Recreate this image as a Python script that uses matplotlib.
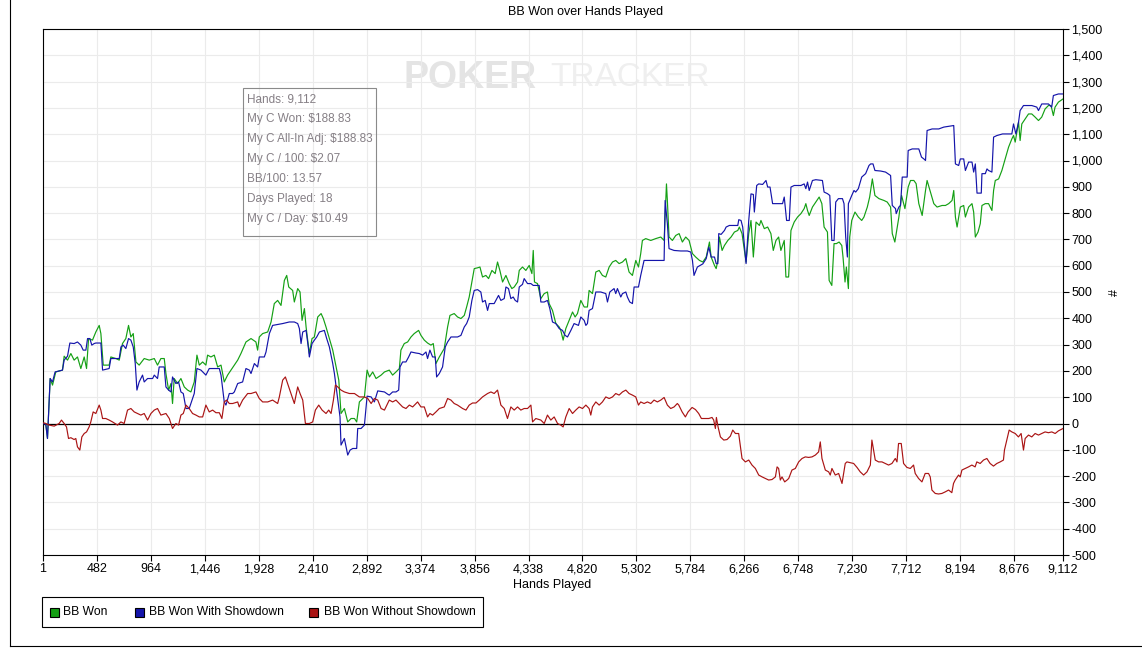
import matplotlib

matplotlib.use("Agg")
import matplotlib.pyplot as plt
from matplotlib.patches import Rectangle
from matplotlib.lines import Line2D

plt.rcParams["font.family"] = ["Liberation Sans", "DejaVu Sans"]

W, H = 1142, 657

X_TICKS = [1, 482, 964, 1446, 1928, 2410, 2892, 3374, 3856, 4338,
           4820, 5302, 5784, 6266, 6748, 7230, 7712, 8194, 8676, 9112]
Y_TICKS = list(range(-500, 1501, 100))

SERIES_NAMES = ["BB Won", "BB Won With Showdown", "BB Won Without Showdown"]

TOOLTIP_LINES = [
    "Hands: 9,112",
    "My C Won: $188.83",
    "My C All-In Adj: $188.83",
    "My C / 100: $2.07",
    "BB/100: 13.57",
    "Days Played: 18",
    "My C / Day: $10.49",
]

green_hands = [
    1, 25, 41, 65, 86, 115, 175, 190, 220, 250,
    279, 309, 339, 369, 390, 408, 443, 473, 503, 518,
    539, 592, 607, 652, 682, 711, 741, 765, 786, 807,
    831, 860, 905, 950, 995, 1024, 1054, 1084, 1099, 1123,
    1144, 1158, 1173, 1203, 1233, 1263, 1293, 1322, 1352, 1376,
    1397, 1427, 1456, 1471, 1501, 1531, 1561, 1591, 1620, 1650,
    1680, 1710, 1740, 1769, 1814, 1859, 1903, 1918, 1933, 1963,
    2008, 2038, 2067, 2097, 2127, 2157, 2178, 2196, 2231, 2246,
    2276, 2297, 2315, 2336, 2351, 2380, 2404, 2425, 2455, 2485,
    2505, 2529, 2559, 2589, 2619, 2643, 2663, 2693, 2723, 2753,
    2783, 2803, 2827, 2872, 2896, 2917, 2946, 2976, 3021, 3051,
    3094, 3124, 3154, 3184, 3198, 3228, 3258, 3288, 3317, 3356,
    3377, 3407, 3436, 3466, 3487, 3511, 3541, 3585, 3615, 3636,
    3674, 3704, 3734, 3764, 3785, 3808, 3853, 3883, 3904, 3927,
    3957, 3981, 4011, 4040, 4061, 4082, 4106, 4136, 4165, 4189,
    4210, 4240, 4255, 4284, 4314, 4344, 4368, 4380, 4391, 4418,
    4448, 4478, 4507, 4522, 4552, 4582, 4612, 4626, 4647, 4671,
    4701, 4731, 4754, 4775, 4805, 4835, 4864, 4879, 4909, 4939,
    4969, 4998, 5028, 5058, 5088, 5117, 5147, 5177, 5207, 5236,
    5266, 5296, 5320, 5340, 5355, 5385, 5430, 5474, 5519, 5549,
    5570, 5578, 5593, 5623, 5653, 5683, 5712, 5742, 5772, 5802,
    5831,
    5865, 5895, 5925, 5954, 5969, 5999, 6014, 6029, 6043, 6067,
    6088, 6118, 6147, 6177, 6207, 6221, 6245, 6266, 6281, 6305,
    6325, 6346, 6370, 6400, 6414, 6444, 6474, 6503, 6524, 6548,
    6572, 6592, 6622, 6637, 6661, 6682, 6711, 6741, 6771, 6800,
    6815, 6830, 6845, 6874, 6904, 6934, 6958, 6978, 7008, 7023,
    7047, 7067, 7088, 7112, 7136, 7147, 7165, 7177, 7195, 7207,
    7225, 7254, 7284, 7314, 7334, 7364, 7385, 7409, 7432, 7468,
    7513, 7542, 7572, 7587, 7610, 7631, 7646, 7670, 7700, 7729,
    7750, 7780, 7800, 7824, 7854, 7884, 7898, 7928, 7958, 7987,
    8032, 8062, 8091, 8121, 8136, 8151, 8166, 8195, 8225, 8240,
    8269, 8299, 8314, 8329, 8353, 8373, 8388, 8418, 8447, 8477,
    8492, 8507, 8537, 8566, 8596, 8626, 8655, 8670, 8685, 8715,
    8729, 8744, 8774, 8804, 8833, 8863, 8893, 8922, 8952, 8982,
    9005, 9026, 9041, 9071, 9112,
]
green_bb = [
    0, 0, -57, 171, 146, 196, 203, 256, 241, 266,
    241, 253, 209, 253, 209, 323, 317, 348, 373, 342,
    222, 222, 253, 247, 241, 304, 323, 373, 329, 342,
    234, 222, 247, 241, 247, 222, 247, 247, 190, 127,
    152, 76, 171, 152, 171, 139, 127, 120, 158, 260,
    222, 234, 222, 260, 253, 260, 215, 222, 158, 184,
    203, 222, 241, 266, 310, 323, 310, 279, 329, 342,
    348, 386, 456, 468, 449, 544, 563, 519, 506, 462,
    513, 500, 392, 437, 367, 266, 323, 329, 405, 418,
    399, 367, 323, 279, 215, 165, 38, 57, 6, 19,
    19, 6, 82, 101, 203, 177, 196, 171, 184, 196,
    203, 184, 196, 209, 279, 304, 310, 329, 342, 354,
    335, 317, 306, 298, 304, 228, 253, 285, 367, 411,
    418, 405, 399, 411, 443, 481, 589, 592, 595, 557,
    563, 551, 582, 570, 614, 582, 538, 563, 532, 513,
    519, 538, 582, 595, 582, 601, 570, 658, 538, 532,
    475, 494, 500, 456, 430, 380, 367, 354, 317, 361,
    392, 424, 405, 418, 468, 443, 443, 506, 494, 576,
    582, 563, 557, 595, 614, 620, 608, 614, 627, 576,
    563, 620, 595, 646, 696, 703, 696, 703, 709, 696,
    911, 848, 709, 696, 715, 722, 690, 709, 696, 646,
    633,
    620, 614, 633, 690, 633, 601, 589, 620, 709, 658,
    677, 696, 709, 728, 734, 747, 722, 658, 614, 722,
    772, 633, 766, 753, 772, 741, 747, 722, 658, 696,
    709, 658, 696, 557, 557, 734, 766, 785, 798, 817,
    836, 810, 791, 823, 842, 861, 836, 747, 728, 544,
    525, 684, 684, 690, 677, 633, 538, 595, 513, 709,
    772, 804, 785, 772, 785, 823, 861, 930, 867, 855,
    848, 842, 823, 722, 690, 747, 785, 867, 817, 899,
    924, 924, 912, 836, 791, 886, 924, 880, 836, 823,
    829, 829, 836, 848, 886, 785, 747, 823, 829, 785,
    823, 836, 804, 709, 728, 760, 829, 836, 836, 810,
    886, 924, 930, 962, 1006, 1051, 1082, 1095, 1070, 1146,
    1076, 1139, 1158, 1177, 1177, 1165, 1152, 1165, 1196, 1209,
    1209, 1171, 1203, 1222, 1234,
]

blue_hands = [
    1, 26, 41, 65, 86, 109, 175, 190, 220, 241,
    279, 309, 339, 360, 384, 399, 419, 437, 458, 473,
    518, 533, 592, 607, 682, 697, 717, 741, 765, 786,
    807, 825, 840, 860, 890, 905, 935, 980, 995, 1024,
    1039, 1084, 1099, 1123, 1144, 1158, 1188, 1212, 1233, 1254,
    1278, 1307, 1322, 1352, 1376, 1412, 1456, 1486, 1576, 1591,
    1620, 1635, 1665, 1695, 1710, 1740, 1784, 1814, 1844, 1859,
    1889, 1918, 1933, 1978, 1993, 2023, 2052, 2142, 2201, 2246,
    2276, 2291, 2306, 2321, 2351, 2374, 2380, 2404, 2425, 2446,
    2470, 2514, 2535, 2559, 2589, 2604, 2634, 2654, 2663, 2693,
    2723, 2744, 2768, 2803, 2812, 2842, 2872, 2896, 2932, 2961,
    2991, 3051, 3081,
    3094, 3124, 3154, 3178, 3190, 3213, 3243, 3267, 3288, 3332,
    3362, 3392, 3422, 3436, 3457, 3481, 3505, 3517, 3541, 3570,
    3594, 3615, 3645, 3704, 3734, 3764, 3785, 3808, 3832, 3853,
    3883, 3912, 3927, 3951, 3972, 3987, 4031, 4046, 4070, 4091,
    4121, 4136, 4159, 4180, 4201, 4219, 4240, 4255, 4284, 4299,
    4329, 4359, 4380, 4403, 4433, 4448, 4478, 4507, 4528, 4552,
    4582, 4612, 4641, 4665, 4686, 4716, 4745, 4784, 4805, 4835,
    4850, 4864, 4879, 4909, 4939, 4983, 5028, 5043, 5064, 5102,
    5117, 5132, 5162, 5177, 5207, 5221, 5242, 5266, 5281, 5320,
    5340, 5370, 5445, 5504, 5549, 5558, 5578, 5593, 5638, 5697,
    5757, 5787, 5802, 5816, 5846,
    5895, 5925, 5948, 5969, 5999, 6014, 6029, 6037, 6058, 6088,
    6103, 6132, 6207, 6216, 6236, 6251, 6281, 6305, 6325, 6346,
    6355, 6376, 6394, 6429, 6459, 6474, 6495, 6518, 6607, 6622,
    6643, 6667, 6682, 6711, 6771, 6800, 6815, 6830, 6845, 6874,
    6904, 6963, 6978, 7008, 7029, 7047, 7067, 7082, 7106, 7142,
    7156, 7171, 7186, 7195, 7225, 7245, 7260, 7284, 7314, 7349,
    7379, 7394, 7415, 7432, 7483, 7527, 7572, 7587, 7616, 7622,
    7646, 7661, 7676, 7720, 7729, 7765, 7824, 7848, 7869, 7884,
    7898, 7943, 8002, 8047, 8136, 8151, 8180, 8195, 8225, 8240,
    8269, 8299, 8314, 8329, 8344, 8382, 8388, 8418, 8433, 8447,
    8477, 8492, 8522, 8572, 8655, 8670, 8691, 8715, 8729, 8759,
    8833, 8878, 8893, 8922, 8982, 9011, 9026, 9071, 9112,
]
blue_bb = [
    0, -3, -57, 171, 158, 196, 203, 241, 256, 306,
    304, 310, 298, 279, 279, 323, 323, 298, 304, 306,
    306, 203, 209, 247, 247, 291, 298, 285, 323, 317,
    291, 228, 127, 158, 184, 158, 171, 171, 184, 171,
    215, 215, 139, 127, 120, 177, 152, 158, 120, 114,
    57, 57, 76, 114, 209, 203, 184, 209, 209, 184,
    82, 70, 114, 114, 120, 152, 158, 209, 203, 190,
    228, 215, 253, 253, 272, 342, 373, 380, 386, 386,
    380, 361, 304, 348, 354, 279, 253, 304, 317, 329,
    348, 354, 323, 291, 228, 190, 89, 25, -82, -57,
    -120, -101, -95, -95, -19, -19, -6, 104, 101, 82,
    124, 120, 111,
    108, 120, 120, 127, 215, 234, 234, 253, 272, 268,
    266, 260, 272, 247, 279, 253, 253, 177, 190, 215,
    291, 310, 329, 329, 335, 367, 380, 405, 468, 506,
    509, 500, 462, 468, 430, 456, 456, 468, 487, 468,
    475, 519, 513, 475, 481, 468, 462, 519, 529, 551,
    532, 532, 525, 525, 525, 462, 462, 468, 437, 386,
    380, 361, 354, 335, 329, 354, 380, 373, 405, 392,
    373, 380, 430, 437, 500, 500, 494, 462, 500, 513,
    494, 513, 481, 494, 500, 481, 462, 456, 519, 519,
    563, 620, 620, 620, 620, 848, 760, 665, 658, 656,
    656, 652, 620, 563, 595,
    607, 627, 671, 633, 633, 608, 608, 722, 719, 734,
    747, 753, 753, 775, 772, 747, 608, 772, 873, 871,
    804, 905, 911, 909, 924, 899, 899, 836, 836, 861,
    772, 772, 899, 905, 905, 911, 893, 918, 886, 924,
    927, 924, 880, 874, 867, 696, 696, 842, 855, 855,
    836, 709, 633, 836, 867, 886, 880, 893, 937, 950,
    981, 987, 987, 962, 960, 956, 943, 829, 817, 798,
    823, 829, 937, 937, 1038, 1044, 1044, 1013, 1006, 1000,
    1114, 1120, 1120, 1127, 1133, 987, 981, 1006, 1006, 962,
    994, 994, 956, 987, 876, 876, 950, 950, 968, 962,
    956, 1089, 1095, 1101, 1101, 1139, 1101, 1146, 1190, 1209,
    1209, 1203, 1190, 1215, 1215, 1203, 1247, 1253, 1253,
]

red_hands = [
    1, 26, 56, 101, 145, 166, 190, 211, 229, 250,
    279, 294, 309, 330, 348, 369, 390, 413, 428, 449,
    473, 503, 518, 533, 562, 592, 622, 667, 697, 726,
    756, 786, 816, 846, 875, 905, 935, 965, 995, 1024,
    1054, 1099, 1129, 1158, 1188, 1212, 1233, 1254, 1278, 1307,
    1337, 1367, 1397, 1427, 1456, 1486, 1516, 1546, 1576, 1599,
    1620, 1641, 1665, 1695, 1740, 1754, 1784, 1829, 1859, 1903,
    1933, 1963, 2008, 2052, 2097, 2112, 2142, 2166, 2186, 2216,
    2246, 2276, 2297, 2321, 2345, 2380, 2410, 2434, 2464, 2494,
    2529, 2553, 2574, 2595, 2613, 2634, 2663, 2693, 2738, 2783,
    2827, 2872, 2902, 2932, 2961, 2991, 3021, 3051,
    3094, 3124, 3154, 3184, 3213, 3243, 3273, 3303, 3347, 3377,
    3407, 3436, 3457, 3481, 3511, 3541, 3585, 3615, 3645, 3674,
    3704, 3749, 3779, 3808, 3838, 3868, 3898, 3927, 3972, 4002,
    4031, 4061, 4091, 4121, 4150, 4180, 4210, 4240, 4269, 4299,
    4329, 4359, 4374, 4403, 4448, 4478, 4507, 4537, 4567, 4597,
    4626, 4647, 4671, 4701, 4731, 4760, 4790, 4820, 4850, 4879,
    4894, 4909, 4939, 4969, 4998, 5028, 5058, 5088, 5117, 5147,
    5177, 5207, 5236, 5266, 5296, 5320, 5340, 5370, 5400, 5430,
    5459, 5489, 5519, 5549, 5578, 5608, 5638, 5667,
    5680, 5710, 5739, 5763, 5799, 5829, 5858, 5882, 5918, 5948,
    5977, 5992, 6007, 6016, 6031, 6052, 6082, 6111, 6141, 6162,
    6186, 6215, 6245, 6275, 6305, 6334, 6364, 6394, 6424, 6453,
    6483, 6513, 6543, 6558, 6572, 6587, 6602, 6626, 6647, 6662,
    6691, 6721, 6751, 6781, 6810, 6840, 6870, 6900, 6929, 6944,
    6959, 6989, 7019, 7033, 7048, 7078, 7108, 7138, 7167, 7182,
    7212, 7242, 7272, 7301, 7331, 7361, 7391, 7405, 7435, 7465,
    7495, 7524, 7554, 7584, 7614, 7629, 7643, 7667, 7688, 7718,
    7748, 7777, 7792, 7822, 7852, 7881, 7911, 7926, 7941, 7971,
    8000, 8030, 8060, 8090, 8119, 8134, 8149, 8179, 8194, 8209,
    8238, 8268, 8298, 8327, 8342, 8372, 8402, 8432, 8461, 8491,
    8521, 8551, 8580, 8589, 8610, 8631, 8655, 8685, 8714, 8738,
    8759, 8774, 8804, 8833, 8863, 8893, 8923, 8952, 8982, 9012,
    9042, 9071, 9112,
]
red_bb = [
    3, 0, -6, -10, 0, 13, 0, -13, -57, -54,
    -61, -57, -89, -101, -51, -38, -32, -13, 6, 44,
    38, 70, 51, 19, 19, 13, 6, -6, 6, 0,
    51, 57, 44, 38, 32, 38, 13, 38, 51, 57,
    32, 38, 19, -19, 0, -6, 32, 38, 70, 57,
    38, 32, 25, 25, 70, 44, 51, 41, 41, 19,
    82, 89, 76, 76, 82, 63, 89, 114, 114, 120,
    95, 82, 82, 89, 76, 101, 165, 177, 152, 114,
    76, 139, 114, 89, 0, 0, 6, 51, 70, 51,
    38, 51, 38, 89, 146, 139, 127, 120, 114, 114,
    101, 101, 95, 76, 95, 89, 57, 51,
    89, 82, 89, 76, 63, 57, 70, 63, 82, 63,
    63, 25, 38, 32, 44, 57, 63, 95, 89, 76,
    70, 57, 51, 70, 78, 78, 89, 101, 114, 120,
    114, 127, 70, 57, 19, 63, 51, 63, 51, 57,
    57, 70, 6, 19, 13, 0, 32, 13, 25, 0,
    -6, -13, 25, 57, 38, 51, 63, 57, 70, 57,
    32, 63, 82, 70, 82, 101, 95, 101, 114, 108,
    120, 127, 114, 108, 101, 70, 82, 76, 82, 76,
    89, 82, 89, 99, 70, 57, 63, 76,
    70, 44, 25, 44, 61, 53, 38, 19, 19, 19,
    23, 13, -19, 23, -13, -51, -63, -61, -48, -25,
    -38, -38, -133, -146, -139, -158, -171, -196, -203, -209,
    -215, -213, -203, -165, -171, -215, -203, -222, -215, -209,
    -177, -171, -146, -133, -127, -129, -127, -120, -108, -70,
    -133, -177, -184, -196, -171, -196, -190, -228, -152, -146,
    -149, -152, -167, -184, -196, -184, -158, -63, -139, -146,
    -146, -152, -158, -152, -133, -146, -76, -76, -152, -167,
    -171, -158, -190, -209, -222, -190, -190, -203, -253, -266,
    -268, -266, -260, -253, -263, -228, -215, -196, -203, -177,
    -171, -165, -158, -165, -146, -152, -139, -133, -152, -162,
    -152, -146, -139, -101, -63, -25, -32, -38, -51, -38,
    -101, -57, -44, -51, -38, -44, -38, -32, -35, -32,
    -38, -28, -19,
]

GREEN = "#14a014"
BLUE = "#1414aa"
RED = "#aa1414"


def fx(x):
    return x / W


def fy(y):
    return 1 - y / H


def main():
    fig = plt.figure(figsize=(W / 100, H / 100), dpi=100)
    fig.patch.set_facecolor("white")
    ax = fig.add_axes([fx(43), fy(555), (1063 - 43) / W, (555 - 29) / H])

    # watermark behind everything
    ax.text(fx(403), fy(78), "POKER", transform=fig.transFigure, fontsize=27,
            fontweight="bold", color="#e4e4e4", va="center", ha="left", zorder=0.3)
    ax.text(fx(550), fy(78), "TRACKER", transform=fig.transFigure, fontsize=24,
            color="#efefef", va="center", ha="left", zorder=0.3)

    ax.plot(green_hands, green_bb, color=GREEN, lw=0.85, zorder=3)
    ax.plot(blue_hands, blue_bb, color=BLUE, lw=0.85, zorder=4)
    ax.plot(red_hands, red_bb, color=RED, lw=0.85, zorder=5)
    ax.axhline(0, color="black", lw=0.9, zorder=2.5)

    ax.set_xlim(X_TICKS[0], X_TICKS[-1])
    ax.set_ylim(Y_TICKS[0], Y_TICKS[-1])
    ax.set_xticks(X_TICKS)
    ax.set_xticklabels([f"{v:,}" for v in X_TICKS])
    ax.yaxis.tick_right()
    ax.set_yticks(Y_TICKS)
    ax.set_yticklabels([f"{v:,}" for v in Y_TICKS])
    ax.tick_params(direction="out", length=4, width=0.8, labelsize=9, pad=2, colors="black")
    ax.grid(color="#ebebeb", lw=0.8)
    ax.set_axisbelow(True)
    for sp in ax.spines.values():
        sp.set_color("black")
        sp.set_linewidth(0.8)

    fig.text(fx(586), fy(12), "BB Won over Hands Played", fontsize=9, ha="center", va="center")
    fig.text(fx(552), fy(585), "Hands Played", fontsize=9, ha="center", va="center")
    fig.text(fx(1115), fy(292), "#", fontsize=9, ha="center", va="center", rotation=90)

    # tooltip box (transparent, grid shows through)
    fig.add_artist(Rectangle((fx(243), fy(236)), (376 - 243) / W, (236 - 88) / H,
                             transform=fig.transFigure, fill=False, ec="#8a8a8a", lw=0.8))
    for i, line in enumerate(TOOLTIP_LINES):
        fig.text(fx(247), fy(99 + 20 * i), line, fontsize=8.5, color="#857f85",
                 ha="left", va="center")

    # legend box below the plot
    fig.add_artist(Rectangle((fx(42), fy(627)), (483 - 42) / W, (627 - 597) / H,
                             transform=fig.transFigure, fc="white", ec="black", lw=0.8))
    for name, color, sx, tx in zip(SERIES_NAMES, [GREEN, BLUE, RED], [50, 134.5, 309.5], [63, 149, 324]):
        fig.add_artist(Rectangle((fx(sx), fy(616.5)), 9 / W, 9 / H, transform=fig.transFigure,
                                 fc=color, ec="black", lw=0.8))
        fig.text(fx(tx), fy(612), name, fontsize=8.7, ha="left", va="center")

    # outer frame (left and bottom edges only)
    fig.add_artist(Line2D([fx(9.5), fx(9.5)], [fy(0), fy(645.5)], color="black", lw=0.8))
    fig.add_artist(Line2D([fx(9.5), fx(1142)], [fy(645.5), fy(645.5)], color="black", lw=0.8))

    fig.savefig("out.png", dpi=100)
    plt.close(fig)


if __name__ == "__main__":
    main()
